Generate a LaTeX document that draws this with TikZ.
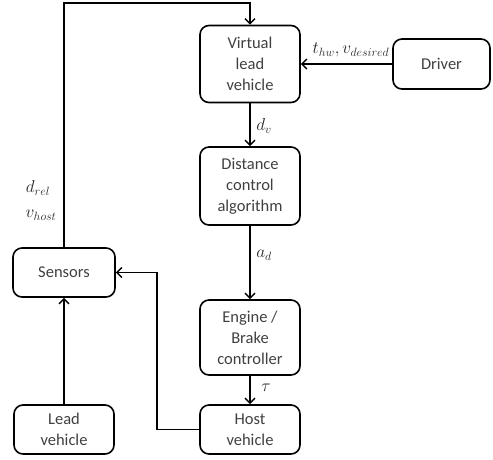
\documentclass[tikz,border=0pt]{standalone}
\usepackage{fontspec}
\setmainfont{Carlito}
\usetikzlibrary{arrows.meta}
\tikzset{
  blk/.style={draw, line width=1.6pt, rounded corners=9pt, minimum width=100pt, align=center, inner sep=2pt, font=\fontsize{16.5}{21}\selectfont, text=black!75},
  arr/.style={line width=1.6pt, -{Straight Barb[length=5pt,width=10pt,line width=1.4pt]}},
  ln/.style={line width=1.6pt},
  lbl/.style={font=\fontsize{17.5}{21}\selectfont, text=black!85}
}
\begin{document}
\begin{tikzpicture}[x=1pt,y=-1pt]
\useasboundingbox (0,0) rectangle (493,459);
\node[blk, minimum height=77pt] (vlv) at (250,64) {Virtual\\lead\\vehicle};
\node[blk, minimum width=97pt, minimum height=50pt] (drv) at (441.5,64) {Driver};
\node[blk, minimum height=78pt] (dca) at (250,186) {Distance\\control\\algorithm};
\node[blk, minimum height=75pt] (eng) at (250,337.5) {Engine /\\Brake\\controller};
\node[blk, minimum height=49pt] (host) at (250,429.5) {Host\\vehicle};
\node[blk, minimum height=49pt] (lead) at (64,429.5) {Lead\\vehicle};
\node[blk, minimum width=102pt, minimum height=49pt] (sens) at (64,272.5) {Sensors};
\coordinate (tl) at (64,3);
\coordinate (hb) at (157,429.5);
\draw[arr] (vlv.south) -- (dca.north);
\draw[arr] (dca.south) -- (eng.north);
\draw[arr] (eng.south) -- (host.north);
\draw[arr] (drv.west) -- (vlv.east);
\draw[arr] (lead.north) -- (sens.south);
\draw[arr] (host.west) -- (hb) |- (sens.east);
\draw[arr] (sens.north) -- (tl) -| (vlv.north);
\node[lbl] (ldv) at (264,126) {$d_{v}$};
\node[lbl] (lad) at (264,255) {$a_{d}$};
\node[lbl] (ltau) at (266,388) {$\tau$};
\node[lbl] (ldrv) at (351,50) {$t_{hw}, v_{desired}$};
\node[lbl] (ldrel) at (38,188) {$d_{rel}$};
\node[lbl] (lvh) at (41,215) {$v_{host}$};
\end{tikzpicture}
\end{document}
